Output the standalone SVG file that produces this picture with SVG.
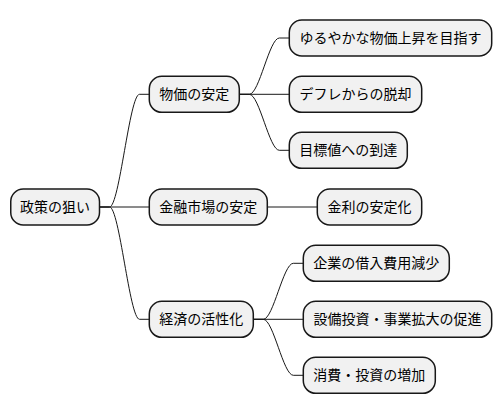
<svg xmlns="http://www.w3.org/2000/svg" width="502" height="415" viewBox="0 0 502 415">
<style>
.n rect{fill:#F1F1F1;stroke:#181818;stroke-width:1.5}
.n text{font-family:"Noto Sans CJK JP","Noto Sans",sans-serif;font-size:14px;fill:#000;text-anchor:middle}
#edges path{fill:none;stroke:#181818;stroke-width:1}
</style>
<rect width="502" height="415" fill="#FFFFFF"/>
<g id="edges">
<path d="M99.5,207 H109.5 C119.5,207 129.5,94.3 139.5,94.3 H149.3"/>
<path d="M99.5,207 H149.3"/>
<path d="M99.5,207 H109.5 C119.5,207 129.5,319.3 139.5,319.3 H149.3"/>
<path d="M239.3,94.3 H249.3 C259.3,94.3 269.3,38 279.3,38 H289.3"/>
<path d="M239.3,94.3 H289.3"/>
<path d="M239.3,94.3 H249.3 C259.3,94.3 269.3,150.3 279.3,150.3 H289.3"/>
<path d="M267.3,207 H317.3"/>
<path d="M253.3,319.3 H263.3 C273.3,319.3 283.3,263.3 293.3,263.3 H303.3"/>
<path d="M253.3,319.3 H303.3"/>
<path d="M253.3,319.3 H263.3 C273.3,319.3 283.3,375.3 293.3,375.3 H303.3"/>
</g>
<g id="root" class="n"><rect x="10.75" y="189" width="88.75" height="36" rx="12.5"/><text x="55.1" y="212">政策の狙い</text></g>
<g id="n_bukka" class="n"><rect x="149.3" y="76.3" width="90" height="36" rx="12.5"/><text x="194.3" y="99.3">物価の安定</text></g>
<g id="n_bukka1" class="n"><rect x="289.3" y="20" width="202.4" height="36" rx="12.5"/><text x="390.5" y="43">ゆるやかな物価上昇を目指す</text></g>
<g id="n_bukka2" class="n"><rect x="289.3" y="76.3" width="132.4" height="36" rx="12.5"/><text x="355.5" y="99.3">デフレからの脱却</text></g>
<g id="n_bukka3" class="n"><rect x="289.3" y="132.3" width="118" height="36" rx="12.5"/><text x="348.3" y="155.3">目標値への到達</text></g>
<g id="n_kinyu" class="n"><rect x="149.3" y="189" width="118" height="36" rx="12.5"/><text x="208.3" y="212">金融市場の安定</text></g>
<g id="n_kinyu1" class="n"><rect x="317.3" y="189" width="104.4" height="36" rx="12.5"/><text x="369.5" y="212">金利の安定化</text></g>
<g id="n_keizai" class="n"><rect x="149.3" y="301.3" width="104" height="36" rx="12.5"/><text x="201.3" y="324.3">経済の活性化</text></g>
<g id="n_keizai1" class="n"><rect x="303.3" y="245.3" width="146" height="36" rx="12.5"/><text x="376.3" y="268.3">企業の借入費用減少</text></g>
<g id="n_keizai2" class="n"><rect x="303.3" y="301.3" width="188.4" height="36" rx="12.5"/><text x="397.5" y="324.3">設備投資・事業拡大の促進</text></g>
<g id="n_keizai3" class="n"><rect x="303.3" y="357.3" width="132" height="36" rx="12.5"/><text x="369.3" y="380.3">消費・投資の増加</text></g>
</svg>
